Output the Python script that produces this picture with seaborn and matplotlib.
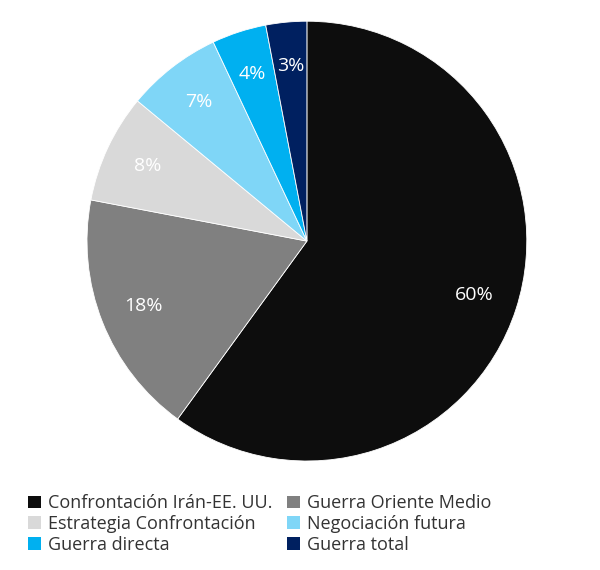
import matplotlib
matplotlib.use('Agg')
import matplotlib.pyplot as plt
import seaborn as sns
from matplotlib.patches import Patch

sns.set_theme(style='white')
plt.rcParams['font.family'] = ['Open Sans', 'DejaVu Sans']

labels = ['Confrontación Irán-EE. UU.', 'Guerra Oriente Medio', 'Estrategia Confrontación',
          'Negociación futura', 'Guerra directa', 'Guerra total']
values = [60, 18, 8, 7, 4, 3]
colors = ['#0d0d0d', '#808080', '#d9d9d9', '#7fd6f7', '#00b0f0', '#002060']

fig = plt.figure(figsize=(6, 5.7), dpi=100)
ax = fig.add_axes([0.145, 0.191, 0.733, 0.772])
wedges, texts, autotexts = ax.pie(values, colors=colors, startangle=90, counterclock=False,
                                  autopct='%d%%', pctdistance=0.8,
                                  wedgeprops=dict(edgecolor='white', linewidth=0.6),
                                  textprops=dict(color='white', fontsize=14))
ax.set_xlim(-1.0, 1.0)
ax.set_ylim(-1.0, 1.0)
ax.set_aspect('equal')

# legend fills row-wise in the reference, matplotlib fills column-wise
order = [0, 2, 4, 1, 3, 5]
handles = [Patch(facecolor=colors[i], edgecolor='none') for i in order]
fig.legend(handles, [labels[i] for i in order], loc='lower left', bbox_to_anchor=(0.02, 0.0), ncol=2,
           frameon=False, fontsize=13, handlelength=0.7, handleheight=0.7,
           columnspacing=0.8, handletextpad=0.4, labelspacing=0.15, labelcolor='#333333')

fig.savefig('out.png', dpi=100)
